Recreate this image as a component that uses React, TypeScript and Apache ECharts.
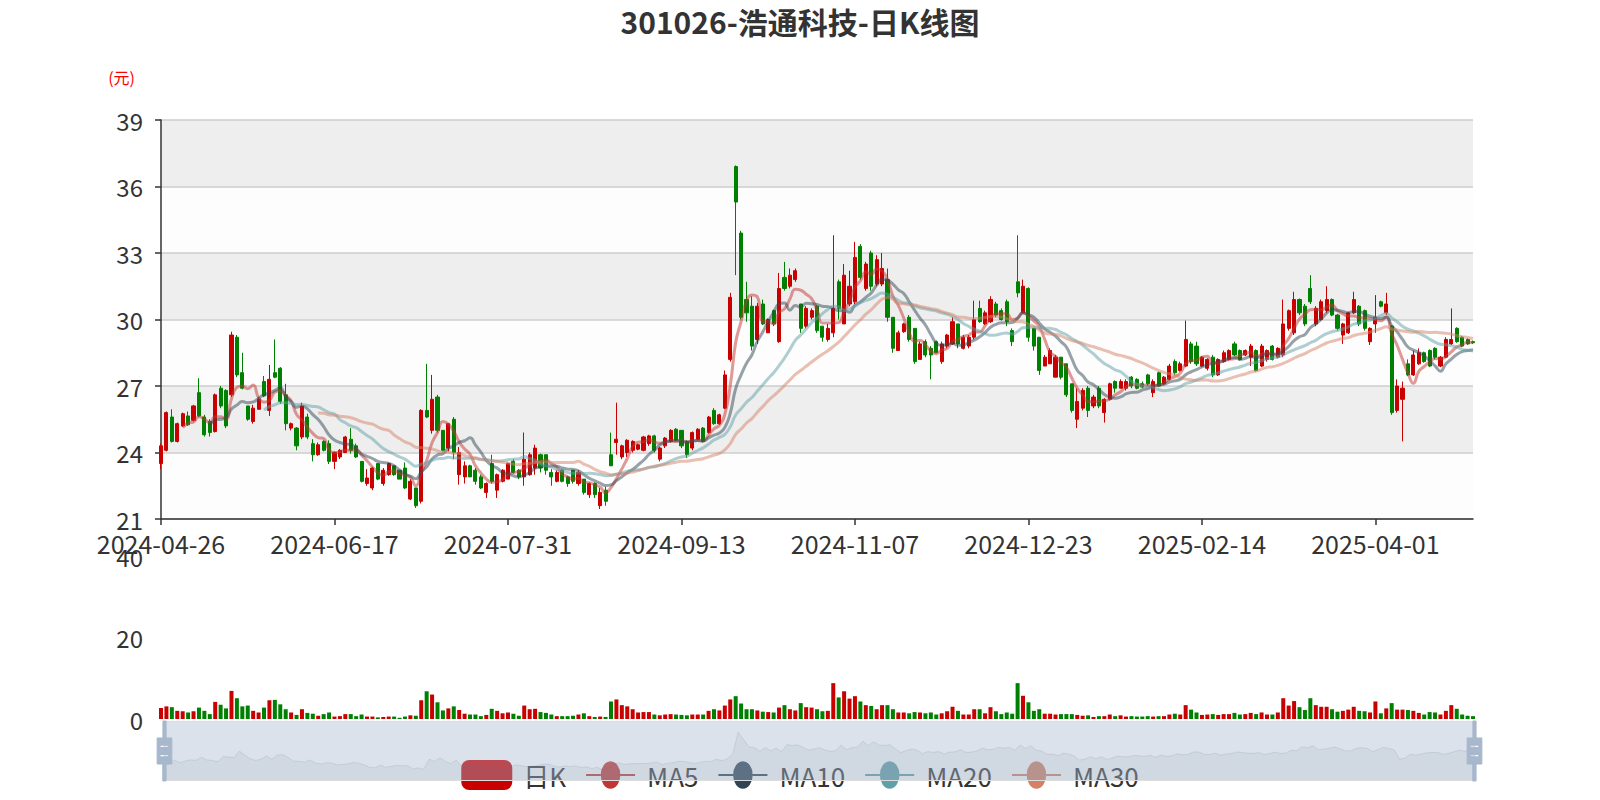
import React, { useEffect, useRef } from "react";
import * as echarts from "echarts";

// trading calendar (month -> trading days)
const tradingDays: [string, number[]][] = [
  ["2024-04", [26, 29, 30]],
  ["2024-05", [6, 7, 8, 9, 10, 13, 14, 15, 16, 17, 20, 21, 22, 23, 24, 27, 28, 29, 30, 31]],
  ["2024-06", [3, 4, 5, 6, 7, 11, 12, 13, 14, 17, 18, 19, 20, 21, 24, 25, 26, 27, 28]],
  ["2024-07", [1, 2, 3, 4, 5, 8, 9, 10, 11, 12, 15, 16, 17, 18, 19, 22, 23, 24, 25, 26, 29, 30, 31]],
  ["2024-08", [1, 2, 5, 6, 7, 8, 9, 12, 13, 14, 15, 16, 19, 20, 21, 22, 23, 26, 27, 28, 29, 30]],
  ["2024-09", [2, 3, 4, 5, 6, 9, 10, 11, 12, 13, 18, 19, 20, 23, 24, 25, 26, 27, 30]],
  ["2024-10", [8, 9, 10, 11, 14, 15, 16, 17, 18, 21, 22, 23, 24, 25, 28, 29, 30, 31]],
  ["2024-11", [1, 4, 5, 6, 7, 8, 11, 12, 13, 14, 15, 18, 19, 20, 21, 22, 25, 26, 27, 28, 29]],
  ["2024-12", [2, 3, 4, 5, 6, 9, 10, 11, 12, 13, 16, 17, 18, 19, 20, 23, 24, 25, 26, 27, 30, 31]],
  ["2025-01", [2, 3, 6, 7, 8, 9, 10, 13, 14, 15, 16, 17, 20, 21, 22, 23, 24, 27]],
  ["2025-02", [5, 6, 7, 10, 11, 12, 13, 14, 17, 18, 19, 20, 21, 24, 25, 26, 27, 28]],
  ["2025-03", [3, 4, 5, 6, 7, 10, 11, 12, 13, 14, 17, 18, 19, 20, 21, 24, 25, 26, 27, 28, 31]],
  ["2025-04", [1, 2, 3, 7, 8, 9, 10, 11, 14, 15, 16, 17, 18, 21, 22, 23, 24, 25, 28]],
];

const openPrices = [
  23.5, 24.1, 25.6, 24.5, 25.2, 25.65, 25.45, 26.7, 25.6, 25.4,
  24.95, 26.9, 26.8, 26.6, 29.2, 27.6, 26.1, 25.4, 25.95, 27.2,
  25.9, 27.6, 27.8, 26.6, 25.1, 25.1, 24.7, 25.6, 24.4, 23.9,
  24.5, 24.4, 23.6, 23.8, 24.0, 24.6, 24.3, 23.6, 22.6, 22.4,
  23.5, 22.6, 23.0, 23.4, 23.2, 23.3, 21.9, 22.4, 21.8, 25.9,
  25.0, 26.5, 25.0, 24.2, 25.5, 23.0, 22.9, 23.4, 23.2, 22.9,
  22.2, 23.5, 22.3, 22.7, 22.8, 23.6, 23.2, 22.9, 23.0, 23.3,
  23.9, 23.9, 23.1, 22.7, 23.2, 22.9, 23.2, 22.6, 22.8, 22.1,
  22.6, 21.6, 22.3, 23.9, 24.45, 23.8, 24.0, 24.1, 24.15, 24.1,
  24.4, 24.75, 23.7, 24.3, 24.5, 25.05, 25.0, 24.5, 24.2, 24.6,
  25.1, 24.9, 25.9, 25.3, 26.0, 28.2, 36.9, 33.9, 30.9, 30.6,
  29.1, 30.7, 29.4, 30.4, 29.0, 31.9, 31.5, 31.8, 30.7, 29.7,
  30.1, 30.6, 29.7, 29.1, 29.4, 31.7, 29.8, 30.7, 30.8, 33.3,
  31.4, 33.0, 31.6, 31.6, 31.8, 30.1, 28.6, 29.45, 30.1, 29.6,
  28.2, 29.0, 28.7, 29.0, 28.1, 28.8, 28.9, 29.8, 28.7, 28.8,
  29.2, 30.5, 29.8, 29.9, 30.7, 30.4, 30.8, 29.5, 31.7, 30.3,
  31.4, 29.6, 29.2, 27.9, 28.0, 27.4, 28.3, 28.0, 27.1, 25.5,
  26.0, 26.9, 26.1, 26.9, 25.8, 26.4, 27.2, 26.9, 26.9, 27.4,
  27.3, 27.1, 27.5, 26.7, 27.6, 27.1, 27.3, 28.1, 27.7, 27.9,
  28.9, 28.8, 27.9, 27.8, 28.3, 27.5, 28.1, 28.2, 28.9, 28.6,
  28.4, 28.3, 28.6, 27.9, 28.2, 28.8, 28.3, 28.4, 29.6, 29.4,
  30.9, 30.6, 31.4, 29.8, 30.0, 30.4, 30.9, 30.2, 29.3, 29.4,
  30.3, 30.6, 30.4, 29.0, 29.8, 30.8, 30.3, 29.7, 25.9, 26.4,
  28.0, 27.5, 28.0, 28.5, 28.6, 28.7, 27.9, 28.3, 28.9, 29.6,
  29.2, 29.1, 29.0,
];

const closePrices = [
  24.3, 25.8, 24.5, 25.3, 25.75, 25.25, 26.1, 25.65, 24.8, 24.9,
  26.6, 26.1, 25.2, 29.3, 27.5, 26.9, 25.5, 26.0, 26.4, 26.55,
  27.3, 27.4, 26.3, 25.3, 25.3, 24.3, 26.1, 24.7, 23.9, 24.35,
  24.1, 23.6, 24.0, 24.1, 24.7, 24.1, 23.8, 22.7, 22.85, 23.3,
  22.8, 23.2, 23.5, 23.0, 22.8, 22.4, 22.7, 21.6, 25.9, 25.6,
  26.4, 25.0, 24.1, 25.3, 24.0, 24.0, 23.4, 22.9, 22.7, 22.4,
  22.6, 22.7, 23.0, 23.2, 23.5, 23.1, 22.9, 23.7, 23.9, 24.2,
  23.3, 23.2, 22.9, 23.1, 22.7, 22.6, 22.7, 23.1, 22.2, 22.6,
  22.1, 22.2, 21.8, 23.4, 24.6, 24.3, 24.55, 24.5, 24.35, 24.7,
  24.75, 24.1, 24.2, 24.65, 25.0, 24.55, 24.3, 23.9, 24.9, 25.05,
  24.5, 25.6, 25.3, 25.7, 27.5, 31.0, 35.3, 30.1, 30.3, 28.8,
  30.6, 29.8, 30.0, 29.8, 31.4, 31.4, 32.0, 32.2, 29.6, 30.5,
  30.4, 29.5, 29.2, 29.6, 30.5, 30.5, 32.0, 31.5, 32.8, 31.9,
  32.5, 31.5, 32.7, 32.3, 30.1, 28.7, 29.4, 29.8, 29.1, 28.1,
  28.9, 28.4, 28.4, 28.5, 28.9, 29.3, 29.9, 28.9, 29.2, 29.2,
  30.0, 29.9, 30.3, 30.9, 30.2, 30.0, 29.9, 29.0, 31.2, 31.5,
  29.2, 28.8, 27.7, 28.3, 28.6, 28.3, 27.4, 26.6, 25.9, 26.3,
  26.8, 25.9, 26.5, 26.1, 26.4, 27.1, 26.9, 27.2, 27.2, 27.0,
  26.9, 26.95, 27.1, 27.2, 27.0, 27.4, 27.9, 27.6, 28.0, 29.1,
  28.1, 28.0, 28.3, 28.2, 27.5, 28.2, 28.5, 28.6, 28.4, 28.2,
  28.6, 28.8, 27.7, 28.8, 28.6, 28.2, 28.7, 29.8, 30.4, 30.9,
  30.3, 29.8, 30.8, 30.5, 30.8, 30.9, 30.2, 29.6, 29.8, 30.3,
  30.9, 29.8, 29.6, 29.6, 30.1, 30.6, 30.7, 25.8, 27.0, 26.9,
  27.5, 28.4, 28.5, 28.1, 27.9, 28.3, 28.3, 29.1, 29.1, 29.0,
  28.8, 28.9, 28.95,
];

const lowPrices = [
  23.25, 24.05, 24.45, 24.45, 25.15, 25.2, 25.4, 25.6, 24.72, 24.72,
  24.9, 26.0, 25.1, 26.5, 27.4, 26.85, 25.43, 25.3, 25.95, 26.5,
  25.65, 27.35, 26.2, 25.0, 25.0, 24.1, 24.6, 24.6, 23.6, 23.85,
  24.05, 23.48, 23.25, 23.7, 24.0, 23.95, 23.75, 22.65, 22.5, 22.3,
  22.75, 22.5, 22.95, 22.95, 22.8, 22.35, 21.85, 21.5, 21.7, 25.55,
  24.85, 24.9, 24.05, 24.05, 23.7, 22.55, 22.6, 22.9, 22.55, 22.35,
  21.95, 22.6, 21.95, 22.65, 22.8, 23.05, 22.8, 22.5, 22.95, 23.0,
  23.1, 23.0, 22.5, 22.65, 22.65, 22.45, 22.6, 22.5, 22.1, 21.95,
  21.95, 21.45, 21.6, 23.4, 23.9, 23.7, 23.8, 24.0, 24.1, 24.05,
  24.3, 24.0, 23.6, 24.2, 24.45, 24.5, 24.2, 23.75, 24.1, 24.55,
  24.45, 24.85, 25.25, 25.25, 25.95, 28.1, 32.0, 30.0, 29.9, 28.6,
  28.9, 29.75, 29.4, 29.7, 28.95, 31.3, 31.4, 31.7, 29.4, 29.6,
  30.0, 29.4, 29.0, 29.0, 29.2, 30.0, 29.8, 30.6, 30.7, 31.8,
  31.3, 31.3, 31.5, 31.5, 29.9, 28.5, 28.6, 29.4, 29.0, 28.0,
  28.2, 28.3, 27.3, 28.5, 28.0, 28.7, 28.85, 28.7, 28.65, 28.7,
  29.1, 29.85, 29.75, 29.85, 30.1, 29.95, 29.7, 28.8, 31.0, 30.3,
  29.0, 28.6, 27.5, 27.9, 28.0, 27.4, 27.3, 26.5, 25.8, 25.1,
  25.9, 25.6, 26.0, 26.0, 25.35, 26.35, 26.7, 26.9, 26.8, 26.9,
  26.85, 26.9, 27.0, 26.5, 26.95, 27.05, 27.25, 27.5, 27.65, 27.85,
  28.0, 27.9, 27.85, 27.7, 27.4, 27.45, 28.05, 28.15, 28.35, 28.15,
  28.35, 27.9, 27.65, 27.85, 28.1, 28.15, 28.25, 28.3, 29.5, 29.3,
  30.2, 29.7, 30.7, 29.7, 29.95, 30.3, 30.15, 29.5, 28.9, 29.35,
  30.25, 29.7, 29.5, 28.85, 29.4, 30.55, 30.2, 25.7, 25.8, 24.5,
  27.45, 27.45, 27.95, 28.05, 27.85, 28.2, 27.85, 28.25, 28.85, 28.95,
  28.75, 28.85, 28.9,
];

const highPrices = [
  24.4, 25.85, 25.95, 25.35, 25.8, 25.85, 26.15, 27.35, 25.7, 25.5,
  26.66, 27.0, 26.85, 29.45, 29.3, 28.5, 26.1, 26.15, 26.5, 27.45,
  27.95, 29.1, 27.85, 27.1, 25.35, 25.15, 26.25, 25.75, 24.6, 24.45,
  24.55, 24.55, 24.05, 24.15, 24.75, 25.1, 24.4, 23.6, 23.25, 23.35,
  23.5, 23.3, 23.55, 23.4, 23.2, 23.55, 22.8, 22.4, 25.95, 28.0,
  27.5, 26.6, 25.0, 25.3, 25.6, 24.25, 23.6, 23.45, 23.3, 23.0,
  22.65, 23.9, 23.05, 23.25, 23.55, 23.7, 23.25, 24.9, 24.0, 24.35,
  23.95, 23.9, 23.25, 23.2, 23.25, 22.95, 23.2, 23.2, 22.8, 22.65,
  22.65, 22.4, 22.45, 24.9, 26.25, 24.35, 24.6, 24.55, 24.4, 24.75,
  24.8, 24.8, 24.25, 24.7, 25.05, 25.1, 25.0, 24.55, 24.95, 25.1,
  25.15, 25.65, 26.0, 25.75, 27.7, 31.2, 36.95, 34.0, 31.7, 31.05,
  30.75, 30.9, 30.05, 30.45, 32.1, 32.6, 32.3, 32.3, 30.7, 30.6,
  30.5, 30.65, 29.7, 29.8, 33.8, 31.8, 32.5, 32.2, 33.5, 33.4,
  32.6, 33.1, 32.9, 33.0, 32.3, 30.1, 29.5, 29.85, 30.2, 29.6,
  29.0, 29.1, 28.8, 29.05, 29.0, 29.35, 30.1, 29.8, 29.3, 29.3,
  30.85, 30.85, 30.4, 31.05, 30.8, 30.5, 30.9, 29.6, 33.8, 31.8,
  31.45, 29.6, 29.2, 28.4, 28.7, 28.4, 28.3, 28.0, 27.1, 26.9,
  26.9, 27.0, 26.6, 27.0, 26.45, 27.15, 27.25, 27.3, 27.3, 27.45,
  27.35, 27.2, 27.55, 27.3, 27.65, 27.45, 28.0, 28.2, 28.1, 29.95,
  29.0, 29.0, 28.35, 28.25, 28.4, 28.25, 28.6, 28.65, 29.0, 28.65,
  28.65, 28.9, 28.65, 28.9, 28.65, 28.85, 28.75, 30.9, 30.45, 31.25,
  30.95, 30.7, 32.0, 30.6, 30.9, 31.5, 30.95, 30.25, 29.85, 30.35,
  31.25, 30.65, 30.45, 29.65, 31.1, 30.85, 31.2, 29.75, 27.3, 27.2,
  28.2, 28.6, 28.7, 28.55, 28.65, 28.75, 28.35, 29.2, 30.5, 29.65,
  29.25, 29.15, 29.05,
];

const volumes = [
  2.7, 3.1, 2.9, 2.0, 1.9, 1.6, 1.9, 2.8, 2.0, 1.2,
  4.2, 3.5, 2.6, 6.9, 5.1, 3.1, 3.3, 2.0, 1.6, 2.8,
  4.6, 4.7, 3.6, 2.4, 1.6, 1.0, 2.4, 1.5, 1.3, 0.8,
  1.2, 1.6, 0.6, 0.7, 1.2, 1.2, 0.7, 1.1, 0.6, 0.6,
  0.4, 0.5, 0.6, 0.6, 0.3, 0.6, 0.9, 0.8, 4.6, 6.8,
  6.0, 4.1, 2.1, 2.6, 3.1, 2.2, 1.3, 1.1, 1.1, 0.7,
  1.0, 2.5, 2.0, 1.4, 1.6, 1.3, 0.8, 3.3, 2.4, 2.5,
  1.7, 1.5, 1.1, 0.7, 0.7, 0.7, 0.8, 1.1, 1.4, 0.7,
  0.5, 0.6, 0.5, 4.3, 4.8, 3.4, 3.1, 2.4, 1.6, 1.7,
  1.7, 1.1, 0.9, 1.1, 1.2, 1.1, 1.0, 0.9, 1.1, 1.1,
  1.1, 2.0, 2.4, 2.1, 3.3, 4.8, 5.6, 3.8, 2.4, 2.4,
  2.1, 1.8, 1.7, 1.6, 2.8, 3.4, 2.4, 2.1, 3.9, 2.9,
  2.8, 2.4, 1.9, 2.0, 8.8, 5.3, 6.8, 5.0, 5.6, 4.3,
  3.4, 3.2, 2.4, 3.4, 3.4, 2.4, 1.6, 1.6, 1.4, 1.7,
  1.6, 1.4, 1.6, 1.1, 1.4, 1.9, 3.0, 2.0, 1.1, 1.1,
  2.4, 2.4, 1.4, 2.9, 1.9, 1.2, 1.6, 1.3, 8.8, 5.7,
  4.1, 2.0, 2.4, 1.3, 1.3, 1.1, 1.2, 1.2, 1.2, 1.0,
  0.8, 0.9, 0.5, 0.7, 0.7, 1.1, 0.7, 0.9, 0.6, 0.7,
  0.6, 0.6, 0.7, 0.6, 0.7, 0.7, 1.1, 1.3, 1.1, 3.4,
  2.3, 1.6, 1.0, 1.1, 1.2, 1.0, 1.2, 1.2, 1.5, 1.1,
  1.2, 1.5, 1.2, 1.6, 1.1, 1.1, 1.6, 5.1, 3.3, 4.4,
  2.9, 2.2, 5.1, 3.4, 3.0, 3.0, 2.4, 1.8, 2.0, 2.3,
  3.0, 2.0, 1.9, 1.6, 4.3, 1.4, 2.6, 3.9, 2.3, 2.3,
  2.2, 2.0, 1.5, 1.1, 1.7, 1.6, 1.1, 2.0, 3.4, 2.5,
  1.1, 0.8, 0.7,
];

const priceTicks = { min: 21, max: 39, interval: 3 };
const volumeTicks = { min: 0, max: 40, interval: 20 };
const maPeriods = [5, 10, 20, 30];
const maColors = ["#c23531", "#2f4554", "#61a0a8", "#d48265"];

const UP = "#c80000";
const DOWN = "#008000";
const FONT = "'Noto Sans CJK SC', 'Noto Sans', sans-serif";

const dates: string[] = tradingDays.flatMap(([m, days]) =>
  days.map((d) => `${m}-${String(d).padStart(2, "0")}`)
);

function movingAverage(n: number): (number | string)[] {
  return closePrices.map((_, i) => {
    if (i < n - 1) return "-";
    let s = 0;
    for (let k = i - n + 1; k <= i; k++) s += closePrices[k];
    return +(s / n).toFixed(2);
  });
}

const lineIcon =
  "path://M0,13H15V15H0Z M35,13H50V15H35Z M15,14A10,14,0,1,1,35,14A10,14,0,1,1,15,14Z";
const handleIcon =
  "path://M8.2,13.6V3.9H6.3v9.7H3.1v14.9h3.3v9.7h1.8v-9.7h3.3V13.6H8.2z M9.7,24.4H4.8v-1.4h4.9V24.4z M9.7,19.1H4.8v-1.4h4.9V19.1z";

export default function App() {
  const ref = useRef<HTMLDivElement>(null);
  useEffect(() => {
    document.body.style.margin = "0";
    if (!ref.current) return;
    const chart = echarts.init(ref.current, undefined, { renderer: "svg" });
    const kData = dates.map((_, i) => [openPrices[i], closePrices[i], lowPrices[i], highPrices[i]]);
    const volData = volumes.map((v, i) => ({
      value: v,
      itemStyle: { color: closePrices[i] >= openPrices[i] ? UP : DOWN },
    }));
    const maNames = maPeriods.map((p) => `MA${p}`);
    chart.setOption({
      animation: false,
      textStyle: { fontFamily: FONT },
      title: {
        text: "301026-浩通科技-日K线图",
        left: "center",
        top: 1,
        textStyle: { fontSize: 30, fontWeight: "bold", color: "#333", fontFamily: FONT },
      },
      legend: {
        z: 2,
        left: "center",
        top: 760,
        padding: 0,
        itemWidth: 49,
        itemHeight: 28,
        itemGap: 20,
        textStyle: { fontSize: 26, color: "#333", padding: [0, 0, 0, 7], fontFamily: FONT },
        data: [
          { name: "日K", icon: "roundRect", itemStyle: { color: UP, borderColor: UP } },
          ...maNames.map((n, k) => ({
            name: n,
            icon: lineIcon,
            itemStyle: { color: maColors[k], opacity: 1, borderWidth: 0 },
          })),
        ],
      },
      grid: [
        { left: 161, right: 127, top: 120, height: 399 },
        { left: 161, right: 127, top: 556, height: 163 },
      ],
      xAxis: [
        {
          type: "category",
          data: dates,
          boundaryGap: false,
          gridIndex: 0,
          axisLine: { lineStyle: { color: "#333", width: 1.5 } },
          axisTick: { interval: 31, length: 6, lineStyle: { color: "#333", width: 1.5 } },
          axisLabel: { interval: 31, fontSize: 25, color: "#333", margin: 11 },
          splitLine: { show: false },
        },
        {
          type: "category",
          data: dates,
          boundaryGap: false,
          gridIndex: 1,
          axisLine: { show: false },
          axisTick: { show: false },
          axisLabel: { show: false },
          splitLine: { show: false },
        },
      ],
      yAxis: [
        {
          type: "value",
          gridIndex: 0,
          min: priceTicks.min,
          max: priceTicks.max,
          interval: priceTicks.interval,
          name: "(元)",
          nameLocation: "end",
          nameGap: 35,
          nameTextStyle: { color: "#ff0000", fontSize: 16, align: "right", padding: [0, 26, 0, 0] },
          axisLine: { show: true, lineStyle: { color: "#333", width: 1.5 } },
          axisTick: { show: true, length: 6, lineStyle: { color: "#333", width: 1.5 } },
          axisLabel: { fontSize: 24, color: "#333", margin: 18 },
          splitLine: { show: true, lineStyle: { color: "#ccc", width: 1.5 } },
          splitArea: {
            show: true,
            areaStyle: { color: ["rgba(250,250,250,0.3)", "rgba(200,200,200,0.3)"] },
          },
        },
        {
          type: "value",
          gridIndex: 1,
          min: volumeTicks.min,
          max: volumeTicks.max,
          interval: volumeTicks.interval,
          axisLine: { show: false },
          axisTick: { show: false },
          axisLabel: { fontSize: 24, color: "#333", margin: 18 },
          splitLine: { show: false },
        },
      ],
      dataZoom: [
        {
          type: "slider",
          xAxisIndex: [0, 1],
          start: 0,
          end: 100,
          z: 6,
          left: 161,
          right: 127,
          top: 721,
          height: 60,
          showDetail: false,
          brushSelect: false,
          moveHandleSize: 0,
          backgroundColor: "rgba(47,69,84,0)",
          borderColor: "#ddd",
          fillerColor: "rgba(167,183,204,0.4)",
          handleIcon: handleIcon,
          handleSize: "100%",
          handleStyle: { color: "#a7b7cc", borderColor: "#a7b7cc" },
          dataBackground: {
            lineStyle: { color: "#2f4554", width: 0.5, opacity: 0.3 },
            areaStyle: { color: "rgba(47,69,84,0.3)", opacity: 0.3 },
          },
          selectedDataBackground: {
            lineStyle: { color: "#2f4554", width: 0.5, opacity: 0.3 },
            areaStyle: { color: "rgba(47,69,84,0.3)", opacity: 0.3 },
          },
        },
      ],
      series: [
        {
          name: "日K",
          type: "candlestick",
          xAxisIndex: 0,
          yAxisIndex: 0,
          data: kData,
          barWidth: 3.6,
          itemStyle: { color: UP, color0: DOWN, borderColor: UP, borderColor0: DOWN, borderWidth: 1 },
        },
        ...maNames.map((n, k) => ({
          name: n,
          type: "line",
          xAxisIndex: 0,
          yAxisIndex: 0,
          data: movingAverage(maPeriods[k]),
          smooth: true,
          showSymbol: false,
          symbol: "circle",
          itemStyle: { color: maColors[k] },
          lineStyle: { width: 3, opacity: 0.5, color: maColors[k] },
        })),
        {
          name: "成交量",
          type: "bar",
          xAxisIndex: 1,
          yAxisIndex: 1,
          data: volData,
          barWidth: 4,
        },
      ],
    });
    return () => chart.dispose();
  }, []);
  return <div ref={ref} style={{ width: 1600, height: 800 }} />;
}
